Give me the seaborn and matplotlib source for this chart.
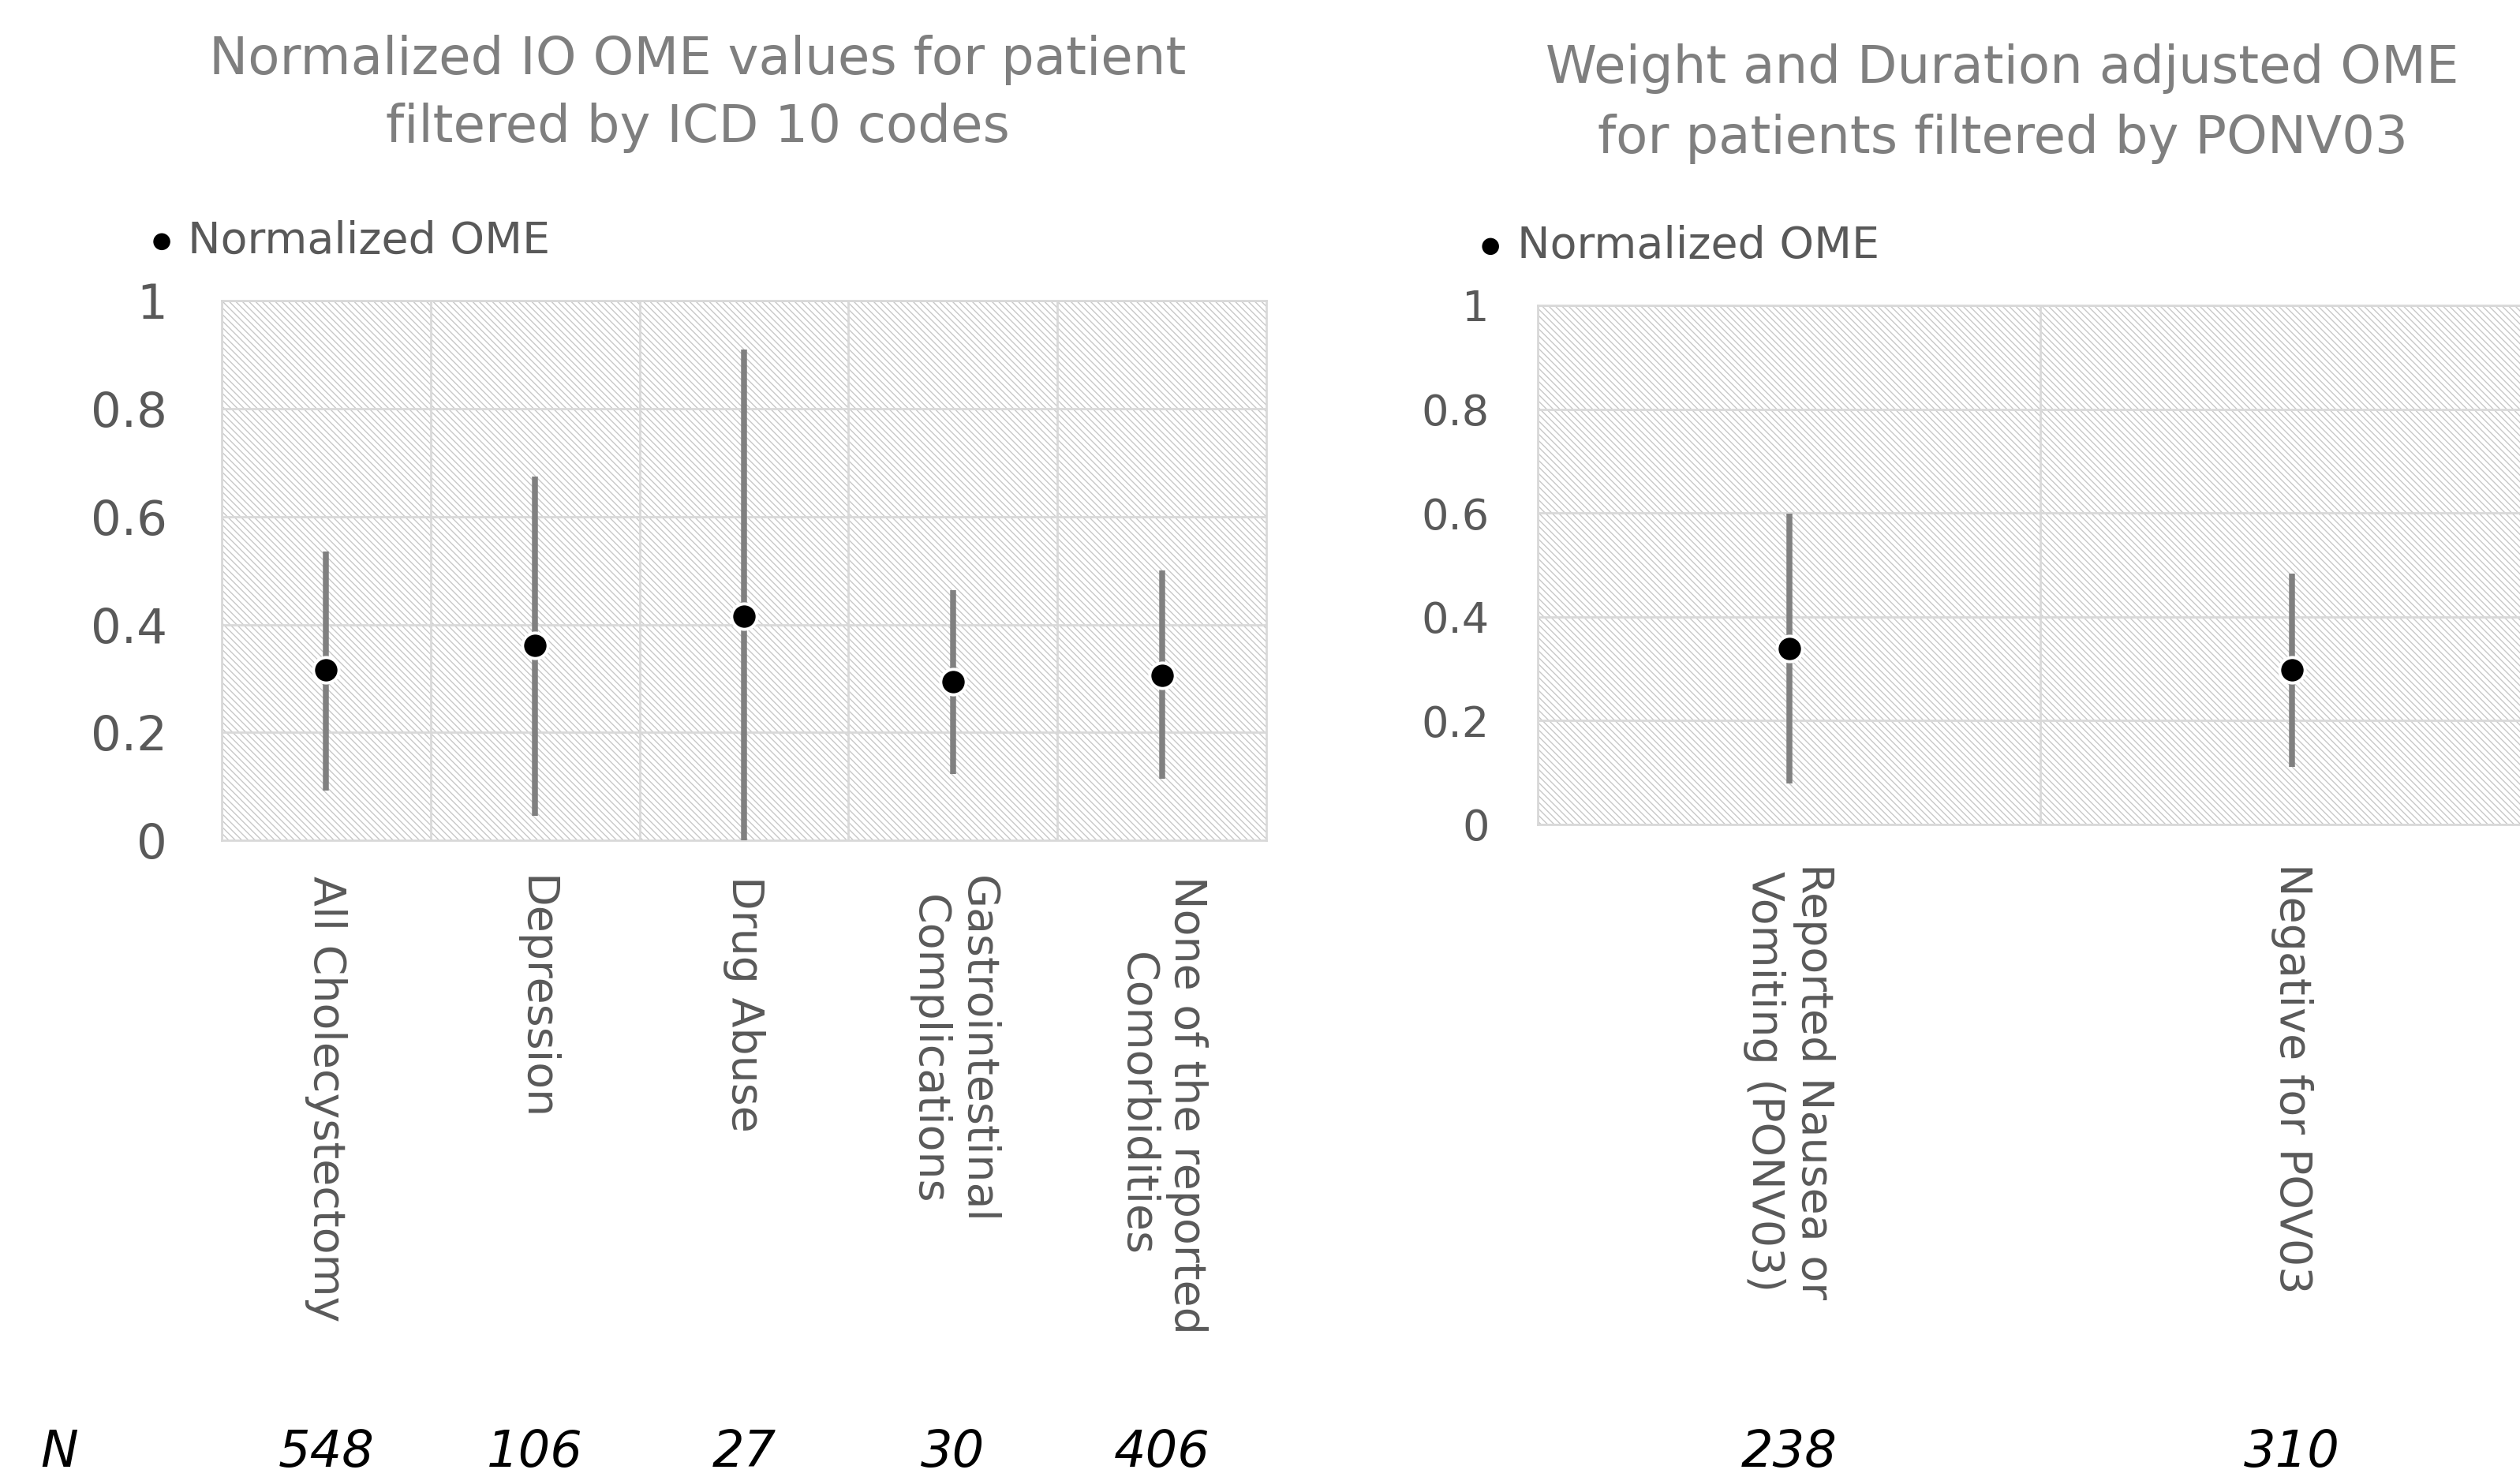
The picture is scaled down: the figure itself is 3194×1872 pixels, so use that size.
import numpy as np
import pandas as pd
import seaborn as sns
import matplotlib.pyplot as plt
from matplotlib.patches import Rectangle
from matplotlib.transforms import blended_transform_factory

# left chart: comorbidity groups (ICD 10)
icd_labels = [
    "All Cholecystectomy",
    "Depression",
    "Drug Abuse",
    "Gastrointestinal\nComplications",
    "None of the reported\nComorbidities",
]
icd_ome = [0.316, 0.362, 0.415, 0.294, 0.306]
icd_low = [0.093, 0.045, 0.0, 0.123, 0.115]
icd_high = [0.536, 0.674, 0.910, 0.464, 0.500]
icd_n = [548, 106, 27, 30, 406]

# right chart: PONV03 groups
ponv_labels = ["Reported Nausea or\nVomiting (PONV03)", "Negative for POV03"]
ponv_ome = [0.339, 0.298]
ponv_low = [0.079, 0.111]
ponv_high = [0.599, 0.483]
ponv_n = [238, 310]

y_ticks = [0, 0.2, 0.4, 0.6, 0.8, 1]

TEXT = "#595959"
TITLE = "#7f7f7f"
GRID = "#d9d9d9"

sns.set_theme(style="white")
plt.rcParams["font.family"] = ["DejaVu Sans"]
plt.rcParams["hatch.linewidth"] = 0.5

fig = plt.figure(figsize=(15.97, 9.36), dpi=200)
ax1 = fig.add_axes([0.088, 0.431, 0.4145, 0.3654])
ax2 = fig.add_axes([0.6102, 0.4418, 0.399, 0.3515])


def draw_panel(ax, labels, ome, low, high, counts, ytick_size, xpad, ypad, leg_x, leg_y):
    df = pd.DataFrame({"group": labels, "ome": ome, "low": low, "high": high})

    # hatched plot area
    ax.add_patch(Rectangle((0, 0), 1, 1, transform=ax.transAxes, facecolor="white",
                           edgecolor="#c8c8c8", hatch="\\" * 8, lw=0, zorder=0))

    sns.scatterplot(data=df, x="group", y="ome", ax=ax, color="black", s=135,
                    edgecolor="white", linewidth=1.4, zorder=4, label="Normalized OME")
    ax.vlines(df["group"], df["low"], df["high"], color="#808080", lw=2.7, zorder=3)

    n = len(labels)
    ax.set_xlim(-0.5, n - 0.5)
    ax.set_ylim(0, 1)
    ax.set_yticks(y_ticks)
    ax.set_yticklabels([f"{v:g}" for v in y_ticks])
    ax.set_xticks(np.arange(n) - 0.5, minor=True)
    ax.set_xticks(range(n))
    ax.set_xticklabels(labels, rotation=270, va="top", ha="center")
    ax.set_xlabel("")
    ax.set_ylabel("")
    ax.set_axisbelow(True)
    ax.grid(axis="y", which="major", color=GRID, lw=1)
    ax.grid(axis="x", which="minor", color=GRID, lw=1)
    ax.tick_params(axis="y", length=0, pad=ypad, labelsize=ytick_size, labelcolor=TEXT)
    ax.tick_params(axis="x", which="both", length=0, pad=xpad, labelsize=20, labelcolor=TEXT)
    for sp in ax.spines.values():
        sp.set_color(GRID)
        sp.set_linewidth(1)

    leg = ax.legend(loc="center left", bbox_to_anchor=(leg_x, leg_y), frameon=False,
                    borderpad=0, borderaxespad=0, handlelength=0.6, handletextpad=0.3,
                    fontsize=20, labelcolor=TEXT)
    for h in leg.legend_handles:
        h.set_sizes([60])
        h.set_edgecolor("none")

    trans = blended_transform_factory(ax.transData, fig.transFigure)
    for i, c in enumerate(counts):
        ax.text(i, 0.0, str(c), transform=trans, ha="center", va="bottom",
                fontsize=23, style="italic", color="black")


draw_panel(ax1, icd_labels, icd_ome, icd_low, icd_high, icd_n, 22, 16, 25, -0.07, 1.11)
draw_panel(ax2, ponv_labels, ponv_ome, ponv_low, ponv_high, ponv_n, 19.5, 17.5, 22, -0.06, 1.114)

fig.text(0.0235, 0.0, "N", ha="center", va="bottom", fontsize=23,
         style="italic", color="black")

fig.text(0.2768, 0.9364, "Normalized IO OME values for patient\nfiltered by ICD 10 codes",
         ha="center", va="center", fontsize=23.7, color=TITLE, linespacing=1.45)
fig.text(0.7946, 0.930, "Weight and Duration adjusted OME\nfor patients filtered by PONV03",
         ha="center", va="center", fontsize=23.7, color=TITLE, linespacing=1.5)

fig.savefig("out.png", dpi=200)
